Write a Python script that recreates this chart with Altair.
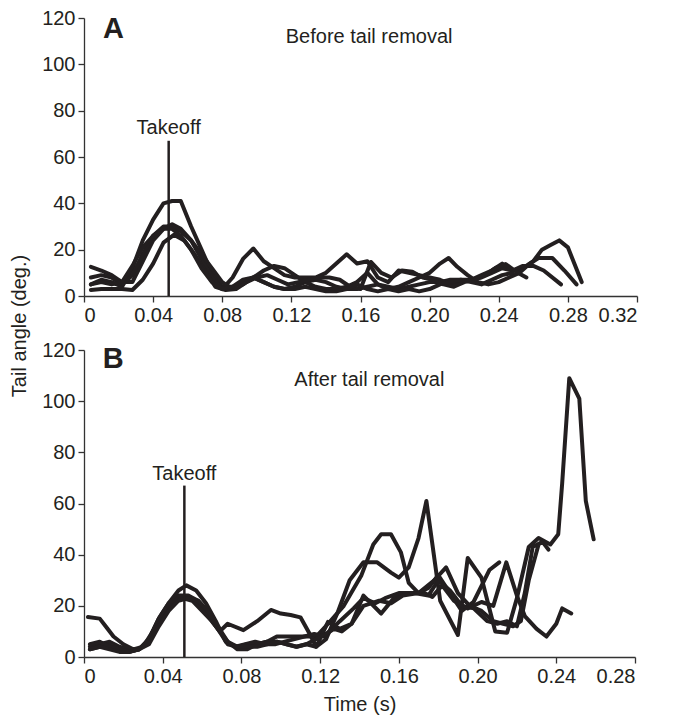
import altair as alt
import pandas as pd

# ---------------- Panel A: before tail removal ----------------
a1_t = [0.004,0.010,0.016,0.022,0.028,0.034,0.040,0.046,0.051,0.056,0.062,0.068,0.074,0.080,0.086,0.092,0.098,0.104,0.110,0.116,0.122,0.128,0.134,0.140,0.146,0.152,0.158,0.164,0.170,0.176,0.182,0.188,0.194,0.200,0.206,0.212,0.218,0.224,0.230,0.236,0.242,0.248,0.254,0.260,0.265,0.270,0.275,0.280,0.288]
a1_v = [5,7,6,4,12,24,33,40,41,41,30,20,10,4,4,5,8,6,4,3,4,6,7,6,4,3,3,4,5,4,3,4,5,6,6,7,7,7,8,10,12,11,12,15,20,22,24,21,6]

a2_t = [0.004,0.010,0.016,0.022,0.028,0.034,0.040,0.046,0.051,0.056,0.062,0.068,0.074,0.080,0.086,0.092,0.098,0.104,0.110,0.116,0.122,0.128,0.134,0.140,0.146,0.152,0.158,0.164,0.170,0.176,0.182,0.188,0.194,0.200,0.206,0.212,0.218,0.224,0.230,0.236,0.242,0.248,0.254,0.260,0.266,0.276]
a2_v = [12.6,11,9,6,6,15,24,29,31,29,24,16,8,3,8,16,20.5,15,12,9,8,8,8,10,14,18,14,15,8,6,11,10,9,8,7,5,6,7,9,11,14,11,13,13,11,5]

a3_t = [0.004,0.010,0.016,0.022,0.028,0.034,0.040,0.046,0.051,0.056,0.062,0.068,0.074,0.080,0.086,0.092,0.098,0.104,0.110,0.116,0.122,0.128,0.134,0.140,0.146,0.152,0.158,0.164,0.170,0.176,0.182,0.188,0.194,0.200,0.206,0.211,0.216,0.222,0.228,0.234,0.240,0.246,0.252,0.258,0.263,0.271,0.278,0.285]
a3_v = [8,9,8,5,9,18,26,30,30,28,24,18,12,6,3,6,8,11,13,12,9,6,4,3,3,4,6,10,5,3,4,6,8,10,14,16.4,12.6,9,6,5,6,8,10,14,16.4,16.4,11,5]

a4_t = [0.004,0.010,0.016,0.022,0.028,0.034,0.040,0.046,0.052,0.058,0.064,0.070,0.076,0.082,0.088,0.094,0.100,0.106,0.112,0.118,0.124,0.130,0.136,0.142,0.148,0.154,0.160,0.166,0.172,0.178,0.184,0.190,0.196,0.202,0.208,0.214,0.220,0.226,0.232,0.238,0.244,0.250,0.256]
a4_v = [2.6,3,3,3,2.6,7,14,23,26.4,24,18,11,4,2.6,3,6,8,9,7,5,6,7,8,8,7,4,3,14.7,10,8,11,10.5,8,7,5,4,6,7,9,12,13.8,10.5,8]

a5_t = [0.004,0.010,0.016,0.022,0.028,0.034,0.040,0.046,0.051,0.056,0.062,0.068,0.074,0.080,0.086,0.092,0.098,0.104,0.110,0.116,0.122,0.128,0.134,0.140,0.146,0.152,0.158,0.164,0.170,0.176,0.182,0.188,0.194,0.200,0.206,0.212,0.218,0.224,0.230,0.236,0.242,0.248]
a5_v = [5,6,5,6,13,21,26,29,29,26,20,12,6,3,4,7,8,6,4,3,3,4,3,2,2,3,5,3,2,3,2,3,2,3,5,6,7,6,5,7,9,10]

# ---------------- Panel B: after tail removal ----------------
b1_t = [0.003,0.008,0.013,0.018,0.023,0.028,0.033,0.038,0.043,0.048,0.053,0.058,0.063,0.068,0.073,0.078,0.083,0.088,0.093,0.098,0.103,0.108,0.113,0.118,0.123,0.129,0.135,0.142,0.149,0.156,0.160,0.165,0.170,0.174,0.181,0.190,0.195,0.202,0.209,0.215,0.220,0.226,0.231,0.237,0.241,0.243,0.2466,0.2517,0.255,0.259]
b1_v = [4,5,6,4,3,3,6,14,19,23,23,21,16,11,6,3,3,5,6,6,5,4,5,4,7,17.6,30,37,37,33,31,35,46.5,61,22,8.6,38.7,31,10,9.5,23,43,46.5,44,48,68,109,101,61,46]

b2_t = [0.003,0.008,0.013,0.018,0.023,0.028,0.033,0.038,0.043,0.048,0.053,0.058,0.063,0.068,0.073,0.078,0.083,0.088,0.093,0.098,0.103,0.108,0.113,0.118,0.124,0.132,0.141,0.147,0.151,0.156,0.161,0.165,0.170,0.175,0.180,0.186,0.192,0.198,0.206,0.211]
b2_v = [3,4,5,3,2,3,7,15,21,24,24,22,17,11,5,4,5,5,6,8,8,8,8,8,13,20,32,44,48,48,41,29,25,27,32,25,18,21.6,34,37]

b3_t = [0.002,0.008,0.011,0.015,0.020,0.025,0.030,0.035,0.040,0.045,0.050,0.055,0.060,0.065,0.069,0.073,0.081,0.088,0.095,0.100,0.105,0.110,0.115,0.118,0.124,0.130,0.136,0.142,0.151,0.158,0.166,0.173,0.177,0.182,0.188,0.195,0.202,0.208,0.2146,0.220,0.224,0.230,0.235,0.240,0.243,0.2476]
b3_v = [15.6,15,12,8,5,3,4,10,17,22,23,22,18,14,10,13,10.5,14,18.4,17,16.4,15.5,8.6,4,13.7,11,13,24,17,23.5,25,25,23.5,28,22,19,21.5,20,37,24,16,11,8,13,19,17]

b4_t = [0.003,0.008,0.013,0.018,0.023,0.028,0.033,0.038,0.043,0.048,0.052,0.057,0.062,0.067,0.072,0.077,0.082,0.087,0.092,0.097,0.102,0.107,0.112,0.117,0.122,0.130,0.137,0.142,0.148,0.153,0.160,0.168,0.175,0.180,0.186,0.192,0.198,0.205,0.210,0.215,0.220,0.224,0.228,0.233,0.236]
b4_v = [5,6,4,3,2,3,7,15,21,26,28,26,21,14,6,4,5,6,5,5,6,7,8,9,8,14,19,23,21,23,25,25,24,30,26,20,19,14,13,14,12,25,43,45,42]

b5_t = [0.003,0.008,0.013,0.018,0.023,0.028,0.033,0.038,0.043,0.048,0.053,0.058,0.063,0.068,0.073,0.078,0.083,0.088,0.093,0.098,0.103,0.108,0.113,0.118,0.123,0.127,0.131,0.136,0.142,0.150,0.156,0.162,0.170,0.178,0.184,0.190,0.196,0.202,0.208,0.213,0.218,0.222,0.226,0.231]
b5_v = [3,4,3,2,2,3,5,12,18,22,23,22,18,12,6,4,4,4,5,6,5,4,5,7,9,11,10,13,20,22,21,24,25,30,35,25,20,18,14,13,12,14,30,44]

# axis ticks
a_xticks = [0, 0.04, 0.08, 0.12, 0.16, 0.20, 0.24, 0.28, 0.32]
b_xticks = [0, 0.04, 0.08, 0.12, 0.16, 0.20, 0.24, 0.28]
yticks = [0, 20, 40, 60, 80, 100, 120]

takeoff_a = 0.049
takeoff_b = 0.051
takeoff_top = 67

INK = "#231f20"
FONT = "Liberation Sans"


def long_df(series):
    rows = []
    for name, ts, vs in series:
        for t, v in zip(ts, vs):
            rows.append({"trial": name, "t": t, "v": v})
    return pd.DataFrame(rows)


dfa = long_df([("1", a1_t, a1_v), ("2", a2_t, a2_v), ("3", a3_t, a3_v),
               ("4", a4_t, a4_v), ("5", a5_t, a5_v)])
dfb = long_df([("1", b1_t, b1_v), ("2", b2_t, b2_v), ("3", b3_t, b3_v),
               ("4", b4_t, b4_v), ("5", b5_t, b5_v)])

label_expr = "datum.value == 0 ? '0' : format(datum.value, '.2f')"


def panel(df, xmax, xticks, takeoff, letter, title_txt, title_pos, letter_pos,
          takeoff_label_v, w, h, xtitle):
    xs = alt.Scale(domain=[0, xmax], nice=False, zero=True)
    ys = alt.Scale(domain=[0, 120], nice=False)
    xaxis = alt.Axis(values=xticks, labelExpr=label_expr, title=xtitle,
                     grid=False, domainColor="#333333", tickColor="#333333",
                     domainWidth=1.3, tickWidth=1.3, tickSize=6,
                     labelFont=FONT, labelFontSize=20, labelColor=INK,
                     labelPadding=3, titleFont=FONT, titleFontSize=20,
                     titleFontWeight="normal", titleColor=INK, titlePadding=8)
    yaxis = alt.Axis(values=yticks, title=None, grid=False,
                     domainColor="#333333", tickColor="#333333",
                     domainWidth=1.3, tickWidth=1.3, tickSize=6,
                     labelFont=FONT, labelFontSize=20, labelColor=INK,
                     labelPadding=3)
    lines = alt.Chart(df).mark_line(color=INK, strokeWidth=4,
                                    strokeJoin="round", strokeCap="round").encode(
        x=alt.X("t:Q", scale=xs, axis=xaxis),
        y=alt.Y("v:Q", scale=ys, axis=yaxis),
        detail="trial:N",
    )
    rule_df = pd.DataFrame({"t": [takeoff], "y0": [0], "y1": [takeoff_top]})
    rule = alt.Chart(rule_df).mark_rule(color=INK, strokeWidth=2.5).encode(
        x=alt.X("t:Q", scale=xs), y=alt.Y("y0:Q", scale=ys), y2="y1:Q")
    tk_df = pd.DataFrame({"t": [takeoff], "v": [takeoff_label_v], "txt": ["Takeoff"]})
    tk = alt.Chart(tk_df).mark_text(font=FONT, fontSize=20, color=INK,
                                    align="center", baseline="alphabetic").encode(
        x=alt.X("t:Q", scale=xs), y=alt.Y("v:Q", scale=ys), text="txt:N")
    tt_df = pd.DataFrame({"t": [title_pos[0]], "v": [title_pos[1]], "txt": [title_txt]})
    tt = alt.Chart(tt_df).mark_text(font=FONT, fontSize=20, color=INK,
                                    align="center", baseline="middle").encode(
        x=alt.X("t:Q", scale=xs), y=alt.Y("v:Q", scale=ys), text="txt:N")
    lt_df = pd.DataFrame({"t": [letter_pos[0]], "v": [letter_pos[1]], "txt": [letter]})
    lt = alt.Chart(lt_df).mark_text(font=FONT, fontSize=29, fontWeight="bold",
                                    color=INK, align="left",
                                    baseline="alphabetic").encode(
        x=alt.X("t:Q", scale=xs), y=alt.Y("v:Q", scale=ys), text="txt:N")
    return alt.layer(lines, rule, tk, tt, lt).properties(width=w, height=h)


panel_a = panel(dfa, 0.32, a_xticks, takeoff_a, "A", "Before tail removal",
                (0.165, 112), (0.011, 111.5), 70, 553, 278, None)
panel_b = panel(dfb, 0.28, b_xticks, takeoff_b, "B", "After tail removal",
                (0.145, 108.3), (0.0095, 113), 69, 551, 307, "Time (s)")

ytitle_df = pd.DataFrame({"txt": ["Tail angle (deg.)"]})
ytitle = alt.Chart(ytitle_df).mark_text(font=FONT, fontSize=20, color=INK,
                                        angle=270, align="center",
                                        baseline="middle").encode(
    x=alt.value(-64), y=alt.value(-24), text="txt:N")

panel_b = alt.layer(panel_b, ytitle)

chart = alt.vconcat(panel_a, panel_b, spacing=54, bounds="flush").properties(
    padding={"left": 1, "top": 0, "right": 5, "bottom": 5}
).configure_view(stroke=None)

chart.save("out.html", embed_options={"renderer": "svg", "actions": False})
